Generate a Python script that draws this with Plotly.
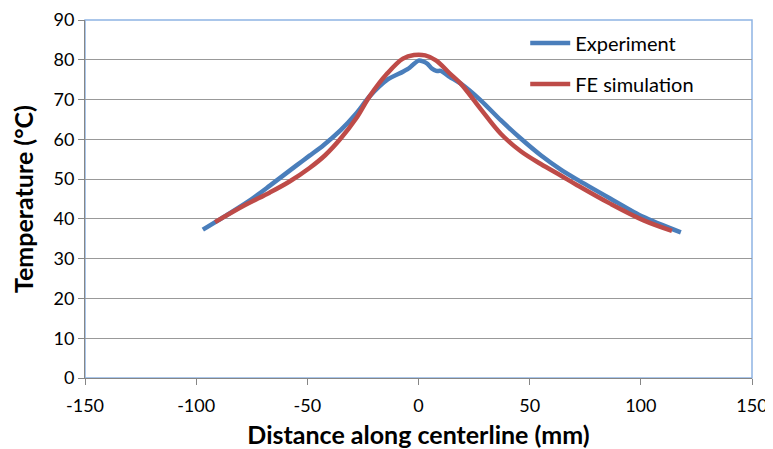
import plotly.graph_objects as go

# Experiment (blue)
exp_x = [-97, -85, -75, -67, -55, -49, -43, -35, -28, -22, -14, -7, -4, -2, 0, 2, 4, 6, 8, 10, 14, 19, 28, 37, 46, 55, 64, 71, 86, 101, 118]
exp_y = [37.3, 41.4, 45.0, 48.3, 53.4, 55.9, 58.4, 62.3, 66.5, 70.8, 75.0, 77.0, 78.0, 79.0, 79.8, 79.6, 79.0, 77.8, 77.2, 77.2, 75.7, 74.0, 69.8, 64.8, 60.2, 56.0, 52.4, 50.0, 45.2, 40.5, 36.6]

# FE simulation (red)
fe_x = [-91.5, -78, -67, -58, -49, -42, -35, -28, -22, -14, -7, -2, 3, 8, 14, 19, 28, 37, 46, 55, 64, 71, 86, 101, 114]
fe_y = [39.2, 43.5, 46.6, 49.4, 52.8, 56.0, 60.2, 65.3, 70.8, 76.6, 80.3, 81.2, 81.1, 79.8, 76.6, 74.0, 67.6, 61.4, 57.0, 53.8, 50.9, 48.6, 43.9, 39.7, 37.0]

x_ticks = [-150, -100, -50, 0, 50, 100, 150]
y_ticks = [0, 10, 20, 30, 40, 50, 60, 70, 80, 90]

FONT = "Lato, 'Open Sans', sans-serif"

fig = go.Figure()
fig.add_trace(go.Scatter(x=exp_x, y=exp_y, mode="lines", name="Experiment",
                         legendgroup="a",
                         line=dict(color="#4A7EBB", width=4.5, shape="spline", smoothing=0.7)))
fig.add_trace(go.Scatter(x=fe_x, y=fe_y, mode="lines", name="FE simulation",
                         legendgroup="b",
                         line=dict(color="#BE4B48", width=4.5, shape="spline", smoothing=1.0)))

fig.update_layout(
    width=765, height=441,
    margin=dict(l=77, r=21, t=12, b=71),
    paper_bgcolor="white", plot_bgcolor="white",
    font=dict(family=FONT, size=18, color="#000000"),
    showlegend=True,
    legend=dict(x=0.66, y=0.99, xanchor="left", yanchor="top",
                bgcolor="rgba(0,0,0,0)", tracegroupgap=12,
                font=dict(family=FONT, size=20, color="#000000"),
                itemwidth=40),
    xaxis=dict(range=[-150, 150], tickvals=x_ticks, ticktext=[str(v) for v in x_ticks],
               automargin=False,
               showgrid=False, zeroline=False, showline=True, linecolor="#868686", linewidth=1,
               ticks="outside", ticklen=6, tickcolor="#868686", ticklabelstandoff=5,
               tickfont=dict(family=FONT, size=18),
               title=dict(text="<b>Distance along centerline (mm)</b>",
                          font=dict(family=FONT, size=25), standoff=14)),
    yaxis=dict(range=[0, 90], tickvals=y_ticks, ticktext=[str(v) for v in y_ticks],
               automargin=False,
               showgrid=True, gridcolor="#999999", gridwidth=1,
               zeroline=False, showline=True, linecolor="#868686", linewidth=1,
               ticks="outside", ticklen=6, tickcolor="#868686",
               tickfont=dict(family=FONT, size=18),
               title=dict(text="<b>Temperature (°C)</b>",
                          font=dict(family=FONT, size=25), standoff=18)),
    shapes=[dict(type="rect", xref="x domain", yref="y domain", x0=0, x1=1, y0=0, y1=1,
                 line=dict(color="#8EB4E3", width=1.5), layer="below")],
)

fig.write_html("out.html")
